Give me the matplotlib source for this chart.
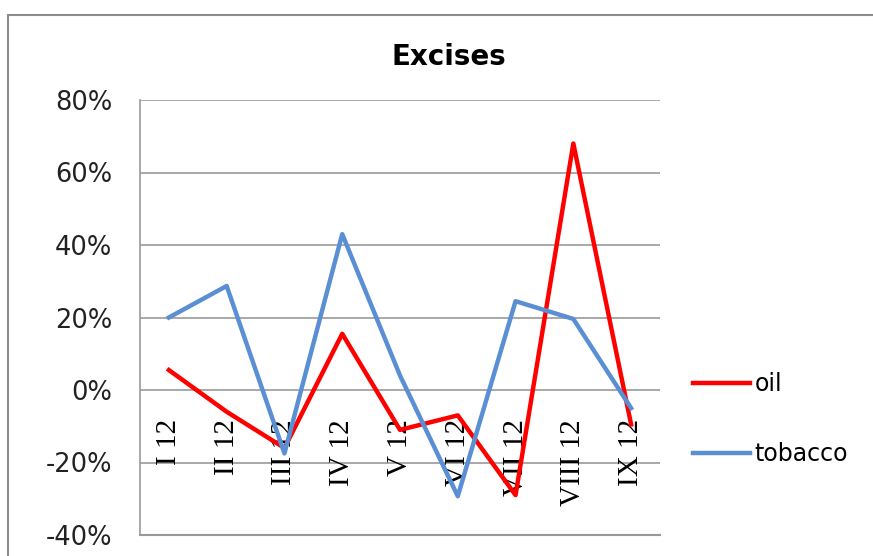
import matplotlib
matplotlib.use('Agg')
import matplotlib.pyplot as plt
from matplotlib.patches import Rectangle
from matplotlib.ticker import FuncFormatter

# Monthly excise growth, 2012
months = ['I 12', 'II 12', 'III 12', 'IV 12', 'V 12', 'VI 12', 'VII 12', 'VIII 12', 'IX 12']
oil = [5.5, -6, -16, 15.5, -11, -7, -29, 68, -9.5]
tobacco = [20, 28.7, -17.5, 43, 4, -29.3, 24.5, 19.6, -5]

fig = plt.figure(figsize=(8.73, 5.56), dpi=100)

# outer chart frame
fig.patches.append(Rectangle((8 / 873, -0.1), 1.2, 1.1 - 15 / 556, transform=fig.transFigure,
                             fill=False, edgecolor='#8c8c8c', linewidth=1.5))

ax = fig.add_axes([140 / 873, 21 / 556, 520 / 873, 435 / 556])
x = list(range(len(months)))
ax.plot(x, oil, color='#ff0000', linewidth=3.2, label='oil', zorder=3)
ax.plot(x, tobacco, color='#5b8fd4', linewidth=3.2, label='tobacco', zorder=3)

ax.set_xlim(-0.5, len(months) - 0.5)
ax.set_ylim(-40, 80)
ax.set_yticks(range(-40, 81, 20))
ax.yaxis.set_major_formatter(FuncFormatter(lambda v, p: f'{v:.0f}%'))
ax.tick_params(axis='y', length=0, pad=20, labelsize=18.5, labelcolor='#222222')
ax.set_xticks([])
ax.grid(axis='y', color='#999999', linewidth=1.2)
ax.set_axisbelow(True)
for s in ['top', 'right', 'bottom']:
    ax.spines[s].set_visible(False)
ax.spines['left'].set_color('#999999')
ax.spines['left'].set_linewidth(1.2)
ax.axhline(-40, color='#999999', linewidth=1.5, clip_on=False)

# category labels hang below the zero line, under the series lines
for i, m in enumerate(months):
    ax.annotate(m, (i, 0), xytext=(0, -21), textcoords='offset points',
                rotation=90, ha='center', va='top', fontsize=21,
                family='Liberation Serif', zorder=2)

fig.text(449 / 873, 1 - 57 / 556, 'Excises', ha='center', va='center',
         fontsize=20, fontweight='bold')

fig.legend(loc='upper left', bbox_to_anchor=(672 / 873, 1 - 351 / 556), frameon=False,
           fontsize=17, handlelength=2.4, handletextpad=0.2, labelspacing=1.95)

fig.savefig('out.png', dpi=100)
